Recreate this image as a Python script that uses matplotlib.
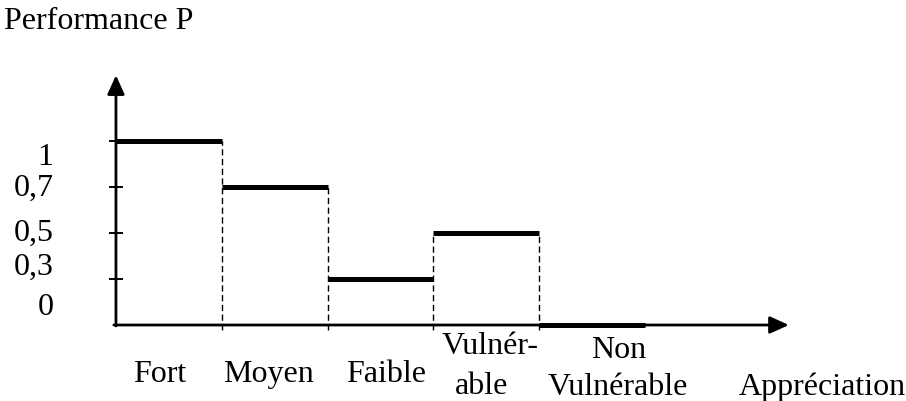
import matplotlib.pyplot as plt

plt.rcParams['font.family'] = ['Liberation Serif', 'DejaVu Serif']

# donnees
categories = ['Fort', 'Moyen', 'Faible', 'Vulnérable', 'Non Vulnérable']
cat_lignes = [['Fort'], ['Moyen'], ['Faible'], ['Vulnér-', 'able'], ['Non', 'Vulnérable']]
performance = [1, 0.7, 0.3, 0.5, 0]
niveaux = [0, 0.3, 0.5, 0.7, 1]
niveaux_labels = ['0', '0,3', '0,5', '0,7', '1']

# petits decalages des textes (le schema d'origine n'est pas aligne)
dx_cat = [[-0.084], [-0.063], [0.052], [0.035, -0.04], [0.254, 0.245]]
dy_cat = [[-1.217], [-1.217], [-1.217], [-0.609, -1.478], [-0.696, -1.5]]
dy_niv = [0.41, 0.28, 0.02, 0.0, -0.33]

fig = plt.figure(figsize=(9.06, 4.02), dpi=100)
ax = fig.add_axes([0, 0, 1, 1])
ax.set_xlim(-1.096, 7.467)
ax.set_ylim(-1.652, 7.087)
ax.axis('off')

fs = 23


# position d'un niveau = son rang sur l'axe
def rang(v):
    return niveaux.index(v)


fleche = dict(arrowstyle='-|>,head_length=1.15,head_width=0.52',
              lw=2, color='black', shrinkA=0, shrinkB=0)
ax.annotate('', xy=(6.36, 0), xytext=(-0.02, 0), arrowprops=fleche)
ax.annotate('', xy=(0, 5.43), xytext=(0, -0.02), arrowprops=fleche)

# graduations
for i, lab in enumerate(niveaux_labels):
    if i > 0:
        ax.plot([-0.06, 0.06], [i, i], color='black', lw=1.4)
    ax.text(-0.59, i + dy_niv[i], lab, fontsize=fs, ha='right', va='center')

# paliers
for i, p in enumerate(performance):
    ax.plot([i, i + 1], [rang(p), rang(p)], color='black', lw=3.6,
            solid_capstyle='butt')

# pointilles entre paliers
for i in range(1, len(performance)):
    h = max(rang(performance[i - 1]), rang(performance[i]))
    ax.plot([i, i], [-0.1, h], color='black', lw=1, linestyle=(0, (4.5, 2.5)))

# libelles des categories
for i, lignes in enumerate(cat_lignes):
    for j, l in enumerate(lignes):
        ax.text(i + 0.5 + dx_cat[i][j], dy_cat[i][j], l, fontsize=fs,
                ha='center', va='baseline')

ax.text(5.89, -1.5, 'Appréciation', fontsize=fs, ha='left', va='baseline')
ax.text(-1.06, 6.457, 'Performance P', fontsize=fs, ha='left', va='baseline')

fig.savefig('out.png', dpi=100)
